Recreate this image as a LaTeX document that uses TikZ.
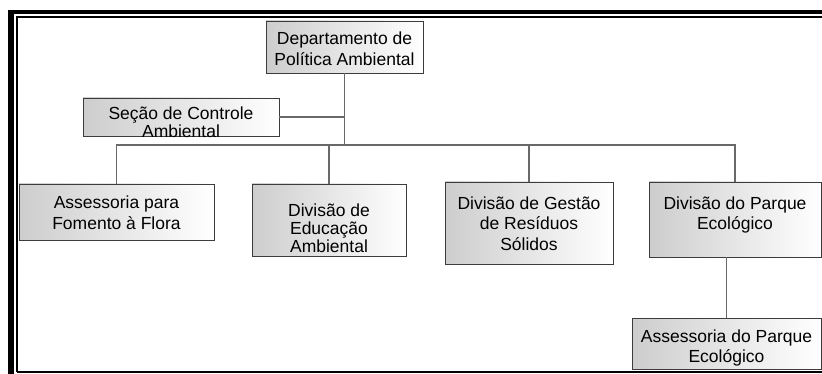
\documentclass[tikz,border=0pt]{standalone}
\usepackage{fontspec}
\setmainfont{Liberation Sans}
\usepackage{tikz}
\definecolor{boxline}{RGB}{60, 60, 60}
\definecolor{linkline}{RGB}{105, 105, 105}
\definecolor{boxshade}{RGB}{205, 205, 205}

% text of one unit: #1 = row stretch, #2 = shift, #3 = lines
\newcommand{\unittext}[3][1]{\raisebox{#2}[0pt][0pt]{\renewcommand\arraystretch{#1}\begin{tabular}{@{}c@{}}#3\end{tabular}}}

\tikzset{
  unit/.style={draw=boxline, line width=0.9pt, inner sep=0pt,
               left color=boxshade, right color=white,
               font=\fontsize{17.5}{20.5}\selectfont},
  link/.style={draw=linkline, line width=1.1pt}
}

\begin{document}
\begin{tikzpicture}[x=1pt, y=-1pt]
            \useasboundingbox (0,0) rectangle (822,374);
            % frame
            \draw[line width=6pt]   (11.3,10)    -- (11.3,380);
            \draw[line width=4pt]   (8.3,12)     -- (830,12);
            \draw[line width=1.8pt] (16.8,371.5) -- (16.8,16.8) -- (830,16.8);
            \draw[line width=2pt]   (16.8,371.5) -- (830,371.5);
            % units
            \node[unit, minimum width=157pt, minimum height=52pt] (dep) at (344.5,47)  {\unittext{-8pt}{Departamento de\\Política Ambiental}};
            \node[unit, minimum width=196pt, minimum height=38pt] (sec) at (181,117)   {\unittext[0.88]{-12pt}{Seção de Controle\\Ambiental}};
            \node[unit, minimum width=195pt, minimum height=56pt] (asf) at (116.5,212) {\unittext{-7pt}{Assessoria para\\Fomento à Flora}};
            \node[unit, minimum width=154pt, minimum height=72pt] (edu) at (329,220)   {\unittext[0.88]{-15.5pt}{Divisão de\\Educação\\Ambiental}};
            \node[unit, minimum width=168pt, minimum height=82pt] (ges) at (529,223)   {\unittext{-7pt}{Divisão de Gestão\\de Resíduos\\Sólidos}};
            \node[unit, minimum width=172pt, minimum height=75pt] (par) at (735,219.5) {\unittext{0pt}{Divisão do Parque\\Ecológico}};
            \node[unit, minimum width=189pt, minimum height=51pt] (asp) at (726.5,343.5) {\unittext{-9pt}{Assessoria do Parque\\Ecológico}};
            % links
            \coordinate (hub) at (dep.south |- 0,145);
            \draw[link] (dep.south) -- (hub);
            \draw[link] (sec.east)  -- (sec.east -| hub);
            \draw[link] (asf.north) |- (hub) -| (par.north);
            \draw[link] (edu.north) -- (edu.north |- hub);
            \draw[link] (ges.north) -- (ges.north |- hub);
            \draw[link] (asp.north) -- (asp.north |- par.south);
\end{tikzpicture}
\end{document}
